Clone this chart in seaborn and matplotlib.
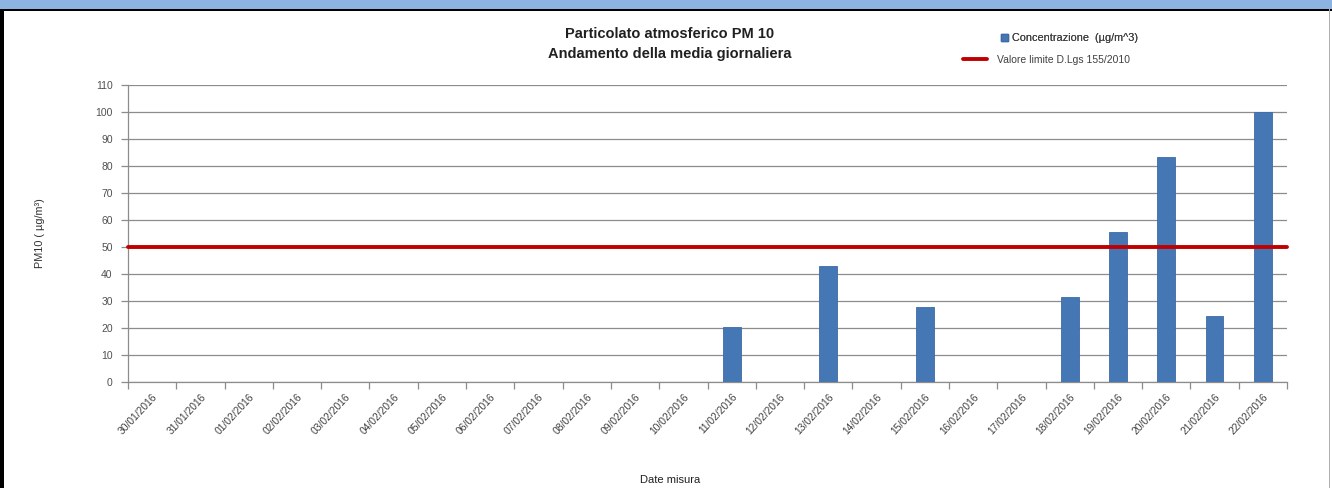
import matplotlib
matplotlib.use("Agg")
import matplotlib.pyplot as plt
from matplotlib.patches import Rectangle, Patch
from matplotlib.lines import Line2D
import seaborn as sns
import pandas as pd
import numpy as np

dates = ["30/01/2016", "31/01/2016", "01/02/2016", "02/02/2016", "03/02/2016",
         "04/02/2016", "05/02/2016", "06/02/2016", "07/02/2016", "08/02/2016",
         "09/02/2016", "10/02/2016", "11/02/2016", "12/02/2016", "13/02/2016",
         "14/02/2016", "15/02/2016", "16/02/2016", "17/02/2016", "18/02/2016",
         "19/02/2016", "20/02/2016", "21/02/2016", "22/02/2016"]
concentration = [None, None, None, None, None, None, None, None, None, None,
                 None, None, 20.5, None, 42.8, None, 27.7, None, None, 31.5,
                 55.4, 83.2, 24.4, 100.0]
limit_value = 50
y_ticks = list(range(0, 111, 10))

title_text = "Particolato atmosferico PM 10\nAndamento della media giornaliera"
legend_bar = "Concentrazione  (µg/m^3)"
legend_line = "Valore limite D.Lgs 155/2010"
y_label = "PM10 ( µg/m³)"
x_label = "Date misura"

sns.set_theme(style="white")
plt.rcParams['font.family'] = ['Liberation Sans', 'DejaVu Sans']

df = pd.DataFrame({"date": dates, "value": concentration}).dropna()

fig = plt.figure(figsize=(13.32, 4.88), dpi=100)
ax = fig.add_axes([128 / 1332, 1 - 382 / 488, 1159 / 1332, 297 / 488])

sns.barplot(data=df, x="date", y="value", order=dates, color="#4677B5",
            saturation=1, width=0.37, ax=ax, zorder=3)
for p in ax.patches:
    p.set_edgecolor("#3D6BA6")
    p.set_linewidth(0.6)

ax.axhline(limit_value, color="#C00000", lw=2.8, zorder=4, clip_on=False)

ax.set_xlim(-0.5, len(dates) - 0.5)
ax.set_ylim(0, 110)
ax.set_yticks(y_ticks)
ax.yaxis.grid(True, color="#8C8C8C", lw=0.9, zorder=0)
ax.xaxis.grid(False)

for s in ["top", "right"]:
    ax.spines[s].set_visible(False)
for s in ["left", "bottom"]:
    ax.spines[s].set_color("#8C8C8C")
    ax.spines[s].set_linewidth(0.9)

ax.set_xticks(range(len(dates)))
ax.set_xticklabels(dates, rotation=47, ha="right", va="top",
                   rotation_mode="anchor", fontsize=7.4, color="#404040")
ax.set_xticks(np.arange(-0.5, len(dates), 1), minor=True)
ax.tick_params(axis="x", which="major", length=0, pad=7)
ax.tick_params(axis="x", which="minor", length=5, color="#8C8C8C", width=0.9,
               direction="out", bottom=True)
ax.tick_params(axis="y", length=5, color="#8C8C8C", width=0.9,
               direction="out", left=True, labelsize=7.5, labelcolor="#505050", pad=6)

ax.set_xlabel("")
ax.set_ylabel(y_label, fontsize=7.8, color="#303030", labelpad=36)
fig.text(670 / 1332, 1 - 480 / 488, x_label, fontsize=8, color="#202020",
         ha="center", va="center")

fig.text(670 / 1332, 1 - 44 / 488, title_text, fontsize=10.5, fontweight="bold",
         color="#202020", ha="center", va="center", linespacing=1.6)

h_bar = Patch(facecolor="#4677B5", edgecolor="#3D6BA6")
h_line = Line2D([], [], color="#C00000", lw=2.8)
leg1 = fig.legend([h_bar], [legend_bar], loc="center left",
                  bbox_to_anchor=(1001 / 1332, 1 - 38 / 488), frameon=False,
                  fontsize=7.8, handlelength=0.6, handleheight=0.6,
                  handletextpad=0.45, borderpad=0, borderaxespad=0,
                  labelcolor="#404040")
leg2 = fig.legend([h_line], [legend_line], loc="center left",
                  bbox_to_anchor=(963 / 1332, 1 - 60 / 488), frameon=False,
                  fontsize=7.5, handlelength=2.3, handletextpad=1.0,
                  borderpad=0, borderaxespad=0, labelcolor="#404040")
fig.add_artist(leg1)

# page frame decoration
fig.patches.append(Rectangle((0, 1 - 8.5 / 488), 1, 8.5 / 488, transform=fig.transFigure,
                             facecolor="#8DB3E2", edgecolor="none", zorder=10))
fig.patches.append(Rectangle((0, 1 - 11 / 488), 1, 2.2 / 488, transform=fig.transFigure,
                             facecolor="#000000", edgecolor="none", zorder=10))
fig.patches.append(Rectangle((0, 0), 4 / 1332, 1 - 9 / 488, transform=fig.transFigure,
                             facecolor="#000000", edgecolor="none", zorder=10))
fig.patches.append(Rectangle((1329 / 1332, 0), 1 / 1332, 1 - 9 / 488, transform=fig.transFigure,
                             facecolor="#B0B0B0", edgecolor="none", zorder=10))

fig.savefig("out.png", dpi=100)
